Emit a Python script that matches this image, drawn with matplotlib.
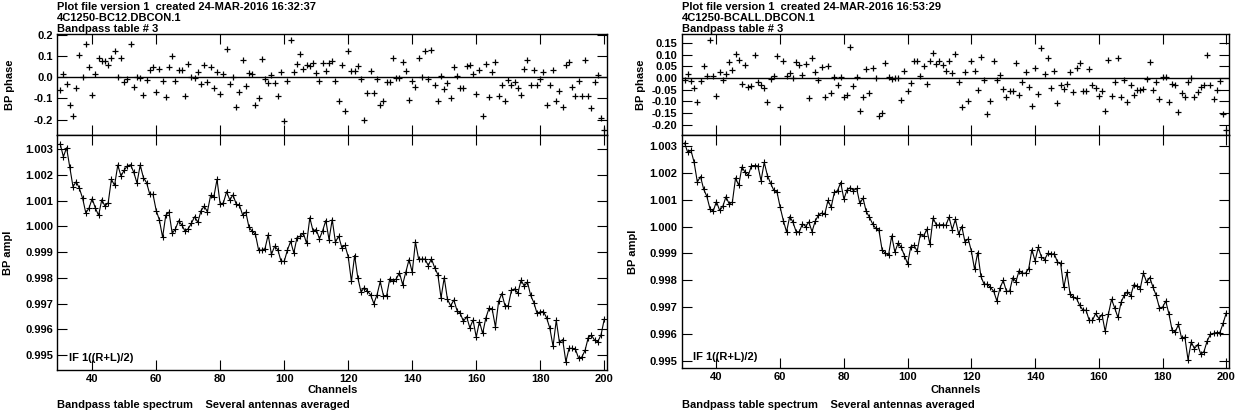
import numpy as np
import matplotlib
matplotlib.use("Agg")
import matplotlib.pyplot as plt
from matplotlib.ticker import FormatStrFormatter, MultipleLocator

plt.rcParams['font.family'] = ['Liberation Sans', 'DejaVu Sans']
plt.rcParams['font.weight'] = 'bold'
plt.rcParams['axes.unicode_minus'] = False

# channel numbers shared by both bandpass tables
channels = np.arange(30, 201)

# 4C1250-BC12 bandpass: phase and amplitude per channel (rows of 10 channels)
phase_bc12 = [
    -0.059, 0.013, -0.032, -0.132, -0.181, -0.052, 0.105, 0.000, 0.156, 0.048,
    -0.086, 0.016, 0.089, 0.076, 0.076, 0.060, 0.089, 0.122, 0.000, 0.090,
    -0.024, -0.008, 0.157, -0.044, 0.000, -0.002, -0.084, -0.013, 0.035, 0.048,
    -0.068, 0.040, -0.016, -0.092, 0.048, 0.098, -0.016, 0.033, 0.033, -0.089,
    0.062, 0.003, -0.003, 0.025, -0.030, 0.060, -0.024, 0.048, -0.051, 0.024,
    -0.081, 0.013, 0.132, -0.030, 0.002, -0.141, -0.068, 0.079, -0.040, 0.022,
    0.013, -0.130, -0.097, 0.084, -0.006, -0.027, 0.010, -0.027, -0.089, 0.025,
    -0.206, -0.016, 0.178, 0.027, 0.063, 0.108, 0.041, 0.059, 0.052, 0.068,
    0.019, -0.016, 0.067, 0.029, 0.067, 0.076, -0.016, -0.113, 0.060, -0.159,
    0.122, 0.029, 0.029, 0.051, -0.010, -0.200, -0.073, 0.030, -0.073, -0.010,
    -0.132, -0.114, -0.021, -0.021, 0.089, -0.005, -0.005, 0.071, 0.030, -0.106,
    -0.017, -0.044, 0.090, 0.003, 0.125, -0.006, 0.127, -0.035, -0.114, 0.005,
    -0.057, -0.027, -0.097, 0.049, 0.008, -0.052, -0.051, 0.051, 0.059, 0.014,
    -0.079, 0.032, -0.184, 0.063, -0.095, 0.025, 0.071, -0.087, -0.037, -0.111,
    -0.011, -0.035, -0.021, -0.051, -0.083, 0.041, 0.083, -0.035, 0.035, -0.035,
    -0.010, 0.025, -0.132, -0.038, 0.032, -0.113, -0.067, -0.141, 0.059, 0.070,
    -0.044, -0.087, -0.016, -0.087, 0.079, -0.090, -0.146, -0.024, 0.011, -0.192,
    -0.248,
]
ampl_bc12 = [
    1.00321, 1.00271, 1.00306, 1.00230, 1.00155, 1.00174, 1.00148, 1.00110, 1.00053, 1.00071,
    1.00108, 1.00071, 1.00043, 1.00104, 1.00079, 1.00092, 1.00183, 1.00160, 1.00239, 1.00196,
    1.00219, 1.00236, 1.00240, 1.00210, 1.00169, 1.00239, 1.00190, 1.00170, 1.00125, 1.00125,
    1.00062, 1.00025, 0.99958, 1.00044, 1.00056, 0.99973, 0.99990, 1.00022, 1.00006, 0.99982,
    0.99991, 1.00012, 1.00038, 1.00016, 1.00061, 1.00079, 1.00057, 1.00121, 1.00114, 1.00183,
    1.00086, 1.00092, 1.00135, 1.00103, 1.00123, 1.00087, 1.00083, 1.00045, 1.00056, 0.99996,
    0.99982, 0.99970, 0.99908, 0.99908, 0.99914, 0.99968, 0.99891, 0.99923, 0.99910, 0.99865,
    0.99864, 0.99908, 0.99942, 0.99897, 0.99957, 0.99962, 0.99973, 0.99934, 1.00034, 0.99983,
    0.99988, 0.99952, 0.99983, 1.00023, 0.99949, 1.00027, 0.99939, 0.99962, 0.99918, 0.99926,
    0.99882, 0.99786, 0.99887, 0.99800, 0.99745, 0.99762, 0.99748, 0.99734, 0.99700, 0.99734,
    0.99786, 0.99731, 0.99731, 0.99797, 0.99786, 0.99796, 0.99820, 0.99774, 0.99822, 0.99871,
    0.99822, 0.99940, 0.99873, 0.99873, 0.99873, 0.99848, 0.99874, 0.99840, 0.99813, 0.99722,
    0.99801, 0.99717, 0.99691, 0.99714, 0.99673, 0.99662, 0.99631, 0.99649, 0.99606, 0.99636,
    0.99570, 0.99630, 0.99584, 0.99644, 0.99682, 0.99677, 0.99609, 0.99709, 0.99739, 0.99691,
    0.99692, 0.99752, 0.99757, 0.99740, 0.99791, 0.99768, 0.99784, 0.99732, 0.99704, 0.99662,
    0.99668, 0.99669, 0.99644, 0.99604, 0.99534, 0.99635, 0.99549, 0.99560, 0.99474, 0.99526,
    0.99526, 0.99522, 0.99487, 0.99492, 0.99518, 0.99568, 0.99577, 0.99557, 0.99552, 0.99579,
    0.99639,
]

# 4C1250-BCALL bandpass
phase_bcall = [
    -0.007, 0.019, -0.013, -0.044, -0.103, -0.013, 0.051, 0.009, 0.165, 0.009,
    -0.079, 0.025, -0.010, 0.019, 0.070, 0.036, 0.102, 0.079, -0.026, 0.058,
    -0.039, -0.035, 0.098, -0.015, -0.032, -0.045, -0.102, -0.006, 0.009, 0.096,
    -0.124, 0.071, 0.010, 0.020, 0.001, 0.067, 0.057, 0.012, 0.061, -0.086,
    0.087, 0.025, -0.007, 0.048, -0.082, 0.052, -0.066, 0.003, -0.028, 0.003,
    -0.080, -0.073, 0.133, -0.035, 0.004, -0.140, -0.082, 0.039, -0.066, 0.045,
    -0.001, -0.162, -0.149, 0.064, 0.003, -0.004, 0.001, 0.001, -0.096, 0.028,
    -0.055, -0.023, 0.073, 0.074, 0.010, 0.050, -0.025, 0.071, 0.109, 0.061,
    0.074, 0.055, 0.029, 0.071, 0.022, 0.105, -0.017, -0.124, 0.026, -0.098,
    0.071, 0.032, -0.051, 0.090, -0.007, -0.156, -0.099, 0.073, -0.010, 0.012,
    -0.047, -0.083, -0.054, -0.057, 0.066, -0.071, -0.016, 0.025, -0.039, -0.120,
    0.044, -0.069, 0.128, 0.017, 0.087, -0.045, 0.029, -0.106, -0.029, -0.048,
    -0.025, 0.026, -0.061, 0.044, 0.064, -0.054, -0.055, 0.039, -0.028, -0.042,
    -0.077, -0.055, -0.140, 0.077, -0.076, -0.016, 0.086, -0.083, -0.010, -0.103,
    -0.028, -0.071, -0.051, -0.051, -0.047, -0.003, 0.069, -0.050, -0.019, -0.092,
    0.004, 0.006, -0.105, -0.026, -0.028, -0.146, -0.066, -0.080, -0.017, 0.000,
    -0.080, -0.061, -0.038, -0.032, 0.099, -0.029, -0.092, -0.050, -0.013, -0.153,
    -0.222,
]
ampl_bcall = [
    1.00311, 1.00276, 1.00284, 1.00239, 1.00166, 1.00186, 1.00139, 1.00112, 1.00065, 1.00058,
    1.00093, 1.00060, 1.00075, 1.00111, 1.00084, 1.00091, 1.00181, 1.00153, 1.00222, 1.00202,
    1.00191, 1.00227, 1.00227, 1.00226, 1.00171, 1.00239, 1.00190, 1.00161, 1.00135, 1.00129,
    1.00072, 1.00022, 0.99980, 1.00037, 1.00017, 0.99981, 0.99980, 1.00010, 1.00000, 1.00017,
    0.99981, 1.00020, 1.00042, 1.00050, 1.00046, 1.00097, 1.00072, 1.00127, 1.00134, 1.00164,
    1.00102, 1.00137, 1.00145, 1.00134, 1.00142, 1.00086, 1.00106, 1.00056, 1.00035, 1.00010,
    0.99993, 0.99986, 0.99912, 0.99901, 0.99893, 0.99965, 0.99905, 0.99938, 0.99922, 0.99892,
    0.99861, 0.99925, 0.99930, 0.99908, 0.99971, 0.99963, 0.99990, 0.99934, 1.00032, 1.00006,
    1.00006, 1.00007, 1.00004, 1.00035, 0.99988, 1.00027, 0.99973, 1.00000, 0.99943, 0.99954,
    0.99909, 0.99841, 0.99903, 0.99814, 0.99785, 0.99785, 0.99773, 0.99759, 0.99723, 0.99771,
    0.99799, 0.99759, 0.99759, 0.99809, 0.99795, 0.99836, 0.99826, 0.99826, 0.99843, 0.99914,
    0.99872, 0.99922, 0.99886, 0.99877, 0.99900, 0.99896, 0.99899, 0.99868, 0.99863, 0.99773,
    0.99830, 0.99747, 0.99737, 0.99732, 0.99706, 0.99689, 0.99688, 0.99650, 0.99650, 0.99676,
    0.99657, 0.99672, 0.99609, 0.99673, 0.99729, 0.99696, 0.99661, 0.99718, 0.99744, 0.99757,
    0.99742, 0.99783, 0.99779, 0.99769, 0.99826, 0.99793, 0.99810, 0.99774, 0.99743, 0.99698,
    0.99699, 0.99722, 0.99675, 0.99614, 0.99607, 0.99636, 0.99583, 0.99588, 0.99503, 0.99570,
    0.99545, 0.99560, 0.99524, 0.99534, 0.99573, 0.99598, 0.99602, 0.99605, 0.99605, 0.99639,
    0.99678,
]

W, H = 1239, 417  # canvas size in pixels


def fx(px):
    return px / W


def fy(py):
    return 1 - py / H


def style_axis(ax):
    """inward ticks on all four sides, bold small labels"""
    ax.tick_params(direction='in', length=7, width=0.8, top=True, right=True,
                   labelsize=8, pad=3)
    for s in ax.spines.values():
        s.set_linewidth(1.0)


def draw_panel(fig, left, right, amp_bottom, phase, ampl, phase_lim, phase_step,
               phase_fmt, ampl_lim, header, label_x):
    top, split = 34, 135.3
    ax_p = fig.add_axes([fx(left), fy(split), (right - left) / W, (split - top) / H])
    ax_a = fig.add_axes([fx(left), fy(amp_bottom), (right - left) / W, (amp_bottom - split) / H])

    # phase: crosses only, with the zero line
    ax_p.plot(channels, phase, '+', color='black', ms=4.5, mew=0.9)
    ax_p.axhline(0, color='black', lw=1.0)
    ax_p.set_xlim(29.1, 200.95)
    ax_p.set_ylim(*phase_lim)
    ax_p.yaxis.set_major_locator(MultipleLocator(phase_step))
    ax_p.yaxis.set_major_formatter(FormatStrFormatter(phase_fmt))
    ax_p.xaxis.set_major_locator(MultipleLocator(20))
    ax_p.set_ylabel("BP phase", fontsize=8, fontweight='bold')
    ax_p.yaxis.set_label_coords(label_x[0], 0.5)
    style_axis(ax_p)
    ax_p.tick_params(labelbottom=False)

    # amplitude: crosses joined by a thin line
    ax_a.plot(channels, ampl, '-+', color='black', lw=0.8, ms=4, mew=0.8)
    ax_a.set_xlim(29.1, 200.95)
    ax_a.set_ylim(*ampl_lim)
    ax_a.yaxis.set_major_locator(MultipleLocator(0.001))
    ax_a.yaxis.set_major_formatter(FormatStrFormatter('%.3f'))
    ax_a.xaxis.set_major_locator(MultipleLocator(20))
    ax_a.set_ylabel("BP ampl", fontsize=8, fontweight='bold')
    ax_a.yaxis.set_label_coords(label_x[1], 0.5)
    style_axis(ax_a)
    ax_a.text(0.021, 0.05, "IF 1((R+L)/2)", transform=ax_a.transAxes,
              fontsize=8, fontweight='bold', va='center', ha='left')

    # header lines above and captions below
    for i, line in enumerate(header):
        fig.text(fx(left), fy(9.5 + 11.3 * i), line, fontsize=8, fontweight='bold',
                 va='baseline', ha='left')
    fig.text(fx((left + right) / 2), fy(390), "Channels", fontsize=8,
             fontweight='bold', ha='center', va='center')
    fig.text(fx(left), fy(405), "Bandpass table spectrum    Several antennas averaged",
             fontsize=8, fontweight='bold', ha='left', va='center')
    return ax_p, ax_a


fig = plt.figure(figsize=(W / 100, H / 100), dpi=100)

draw_panel(fig, 57.3, 607.3, 370.0, phase_bc12, ampl_bc12,
           (-0.274, 0.204), 0.1, '%.1f', (0.994417, 1.003545),
           ["Plot file version 1  created 24-MAR-2016 16:32:37",
            "4C1250-BC12.DBCON.1", "Bandpass table # 3"],
           (-0.076, -0.080))

draw_panel(fig, 681.7, 1229.3, 368.3, phase_bcall, ampl_bcall,
           (-0.246, 0.189), 0.05, '%.2f', (0.994717, 1.003399),
           ["Plot file version 1  created 24-MAR-2016 16:53:29",
            "4C1250-BCALL.DBCON.1", "Bandpass table # 3"],
           (-0.065, -0.080))

fig.savefig("out.png", dpi=100)
